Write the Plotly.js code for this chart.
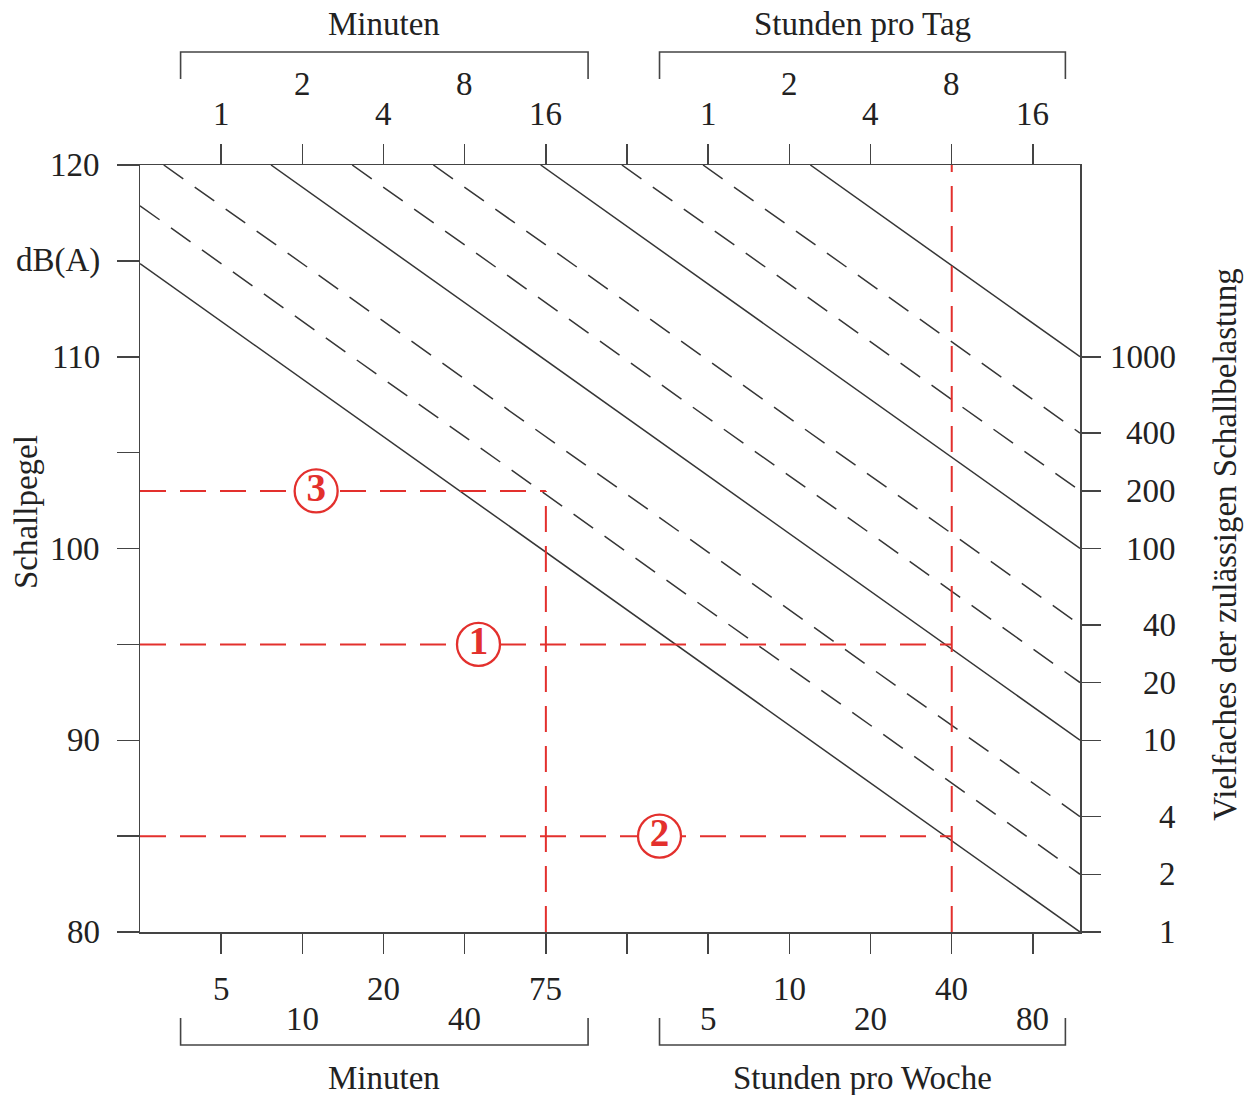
<!DOCTYPE html>
<html>
<head>
<meta charset="utf-8">
<script src="https://cdn.plot.ly/plotly-3.0.1.min.js"></script>
<style>html,body{margin:0;padding:0;background:#fff}</style>
</head>
<body>
<div id="chart" style="width:1248px;height:1095px"></div>
<script>
// Time axis: one step = one doubling of the exposure time
const timeSteps = [1, 2, 3, 4, 5, 6, 7, 8, 9, 10, 11];
const topLabels = ["1", "2", "4", "8", "16", "", "1", "2", "4", "8", "16"];      // Minuten | Stunden pro Tag
const bottomLabels = ["5", "10", "20", "40", "75", "", "5", "10", "20", "40", "80"]; // Minuten | Stunden pro Woche

// Sound level axis (left)
const levelTicks = [80, 85, 90, 95, 100, 105, 110, 115, 120];
const levelLabels = ["80", "", "90", "", "100", "", "110", "dB(A)", "120"];

// Multiples of the permissible exposure (right)
const multiples = [1, 2, 4, 10, 20, 40, 100, 200, 400, 1000];
const solidMultiples = [1, 10, 100, 1000];
const dashedMultiples = [2, 4, 20, 40, 200, 400];

// Worked examples: level in dB(A), exposure step, position of the badge
const exampleNames = ["1", "2", "3"];
const exampleLevels = [95, 85, 103];
const exampleSteps = [10, 10, 5];
const exampleBadgeSteps = [4.17, 6.4, 2.17];

// Vertical guide lines: exposure step and upper level
const guideSteps = [10, 5];
const guideTops = [120, 103];

const X_END = 11.58;                       // right edge of the time axis
const Y_MIN = 80, Y_MAX = 120;
const DB_PER_STEP = 10 * Math.log10(2);    // equal energy: +3 dB per halving of time
const BASE_DB = 80;                        // level of the 1x line at the right edge

const FONT = "Liberation Serif, Times New Roman, serif";
const FS = 33;
const INK = "#222222";
const LINE = "#363636";
const RED = "#e3302d";

function rightLevel(m) { return BASE_DB + 10 * Math.log10(m); }
function levelAt(m, x) { return rightLevel(m) + DB_PER_STEP * (X_END - x); }

function exposureLine(m, dashed) {
  const x0 = Math.max(0, X_END - (Y_MAX - rightLevel(m)) / DB_PER_STEP);
  return {
    x: [x0, X_END], y: [levelAt(m, x0), levelAt(m, X_END)],
    mode: "lines", hoverinfo: "skip", showlegend: false,
    line: { color: LINE, width: 1.5, dash: dashed ? "24px,14px" : "solid" }
  };
}

const traces = [];
solidMultiples.forEach(m => traces.push(exposureLine(m, false)));
dashedMultiples.forEach(m => traces.push(exposureLine(m, true)));

const redLine = { color: RED, width: 2, dash: "26px,14px" };
exampleLevels.forEach((lv, i) => traces.push({
  x: [0, exampleSteps[i]], y: [lv, lv], mode: "lines",
  hoverinfo: "skip", showlegend: false, line: redLine
}));
guideSteps.forEach((s, i) => traces.push({
  x: [s, s], y: [Y_MIN, guideTops[i]], mode: "lines",
  hoverinfo: "skip", showlegend: false, line: redLine
}));

// circled example numbers
traces.push({
  x: exampleBadgeSteps, y: exampleLevels, text: exampleNames,
  mode: "markers+text", textposition: "middle center",
  hoverinfo: "skip", showlegend: false, cliponaxis: false,
  marker: { size: 43, color: "#ffffff", line: { color: RED, width: 2.3 } },
  textfont: { family: FONT, size: 39, color: RED, weight: "bold" }
});

// carrier for the right-hand scale
traces.push({ x: [null], y: [null], yaxis: "y2", mode: "lines", hoverinfo: "skip", showlegend: false });

const annotations = [];
const txt = (o) => Object.assign({ showarrow: false, font: { family: FONT, size: FS, color: INK } }, o);

// top and bottom tick labels, staggered in two rows
timeSteps.forEach((s, i) => {
  if (topLabels[i]) {
    const upper = s % 2 === 0;
    annotations.push(txt({ x: s, xref: "x", y: 1, yref: "paper", yanchor: "middle",
      yshift: upper ? 81 : 51, text: topLabels[i] }));
  }
  if (bottomLabels[i]) {
    const upper = s <= 6 ? s % 2 === 1 : s % 2 === 0;
    annotations.push(txt({ x: s, xref: "x", y: 0, yref: "paper", yanchor: "middle",
      yshift: upper ? -57 : -87, text: bottomLabels[i] }));
  }
});

// left labels
levelTicks.forEach((v, i) => {
  if (levelLabels[i]) annotations.push(txt({ x: 0, xref: "paper", xanchor: "right", xshift: -38,
    y: v, yref: "y", yanchor: "middle", text: levelLabels[i] }));
});

// right labels
multiples.forEach(m => annotations.push(txt({ x: 1, xref: "paper", xanchor: "right", xshift: 98,
  y: rightLevel(m), yref: "y2", yanchor: "middle", text: String(m) })));

// group titles
annotations.push(txt({ x: 3, xref: "x", y: 1, yref: "paper", yanchor: "middle", yshift: 141, text: "Minuten" }));
annotations.push(txt({ x: 8.9, xref: "x", y: 1, yref: "paper", yanchor: "middle", yshift: 141, text: "Stunden pro Tag" }));
annotations.push(txt({ x: 3, xref: "x", y: 0, yref: "paper", yanchor: "middle", yshift: -146, text: "Minuten" }));
annotations.push(txt({ x: 8.9, xref: "x", y: 0, yref: "paper", yanchor: "middle", yshift: -146, text: "Stunden pro Woche" }));

// axis titles
annotations.push(txt({ x: 0, xref: "paper", xanchor: "center", xshift: -114, y: 101.9, yref: "y",
  yanchor: "middle", textangle: -90, text: "Schallpegel" }));
annotations.push(txt({ x: 1, xref: "paper", xanchor: "center", xshift: 145, y: 100.2, yref: "y",
  yanchor: "middle", textangle: -90, text: "Vielfaches der zulässigen Schallbelastung" }));

// brackets grouping the time labels
const bracketSpans = [[0.5, 5.52], [6.4, 11.4]];
const shapes = [];
const PH = 767;
bracketSpans.forEach(([a, b]) => {
  const yl = 1 + 113 / PH, ye = 1 + 86 / PH;
  shapes.push({ type: "path", xref: "x", yref: "paper",
    path: `M ${a},${ye} L ${a},${yl} L ${b},${yl} L ${b},${ye}`,
    line: { color: "#444", width: 1.6 } });
  const bl = -113 / PH, be = -86 / PH;
  shapes.push({ type: "path", xref: "x", yref: "paper",
    path: `M ${a},${be} L ${a},${bl} L ${b},${bl} L ${b},${be}`,
    line: { color: "#444", width: 1.6 } });
});

const layout = {
  width: 1248, height: 1095,
  margin: { l: 140, r: 168, t: 165, b: 163 },
  paper_bgcolor: "#ffffff", plot_bgcolor: "#ffffff",
  showlegend: false,
  font: { family: FONT, size: FS, color: INK },
  xaxis: {
    range: [0, X_END], tickvals: timeSteps, showticklabels: false,
    ticks: "outside", ticklen: 20, tickwidth: 1.5, tickcolor: "#444",
    showline: true, linecolor: "#444", linewidth: 1.5, mirror: "ticks",
    showgrid: false, zeroline: false, fixedrange: true
  },
  yaxis: {
    range: [Y_MIN, Y_MAX], tickvals: levelTicks, showticklabels: false,
    ticks: "outside", ticklen: 22, tickwidth: 1.5, tickcolor: "#444",
    showline: true, linecolor: "#444", linewidth: 1.5, mirror: true,
    showgrid: false, zeroline: false, fixedrange: true
  },
  yaxis2: {
    range: [Y_MIN, Y_MAX], overlaying: "y", side: "right",
    tickvals: multiples.map(rightLevel), showticklabels: false,
    ticks: "outside", ticklen: 20, tickwidth: 1.5, tickcolor: "#444",
    showline: false, showgrid: false, zeroline: false, fixedrange: true
  },
  annotations: annotations,
  shapes: shapes
};

Plotly.newPlot("chart", traces, layout, { staticPlot: true, displayModeBar: false });
</script>
</body>
</html>
